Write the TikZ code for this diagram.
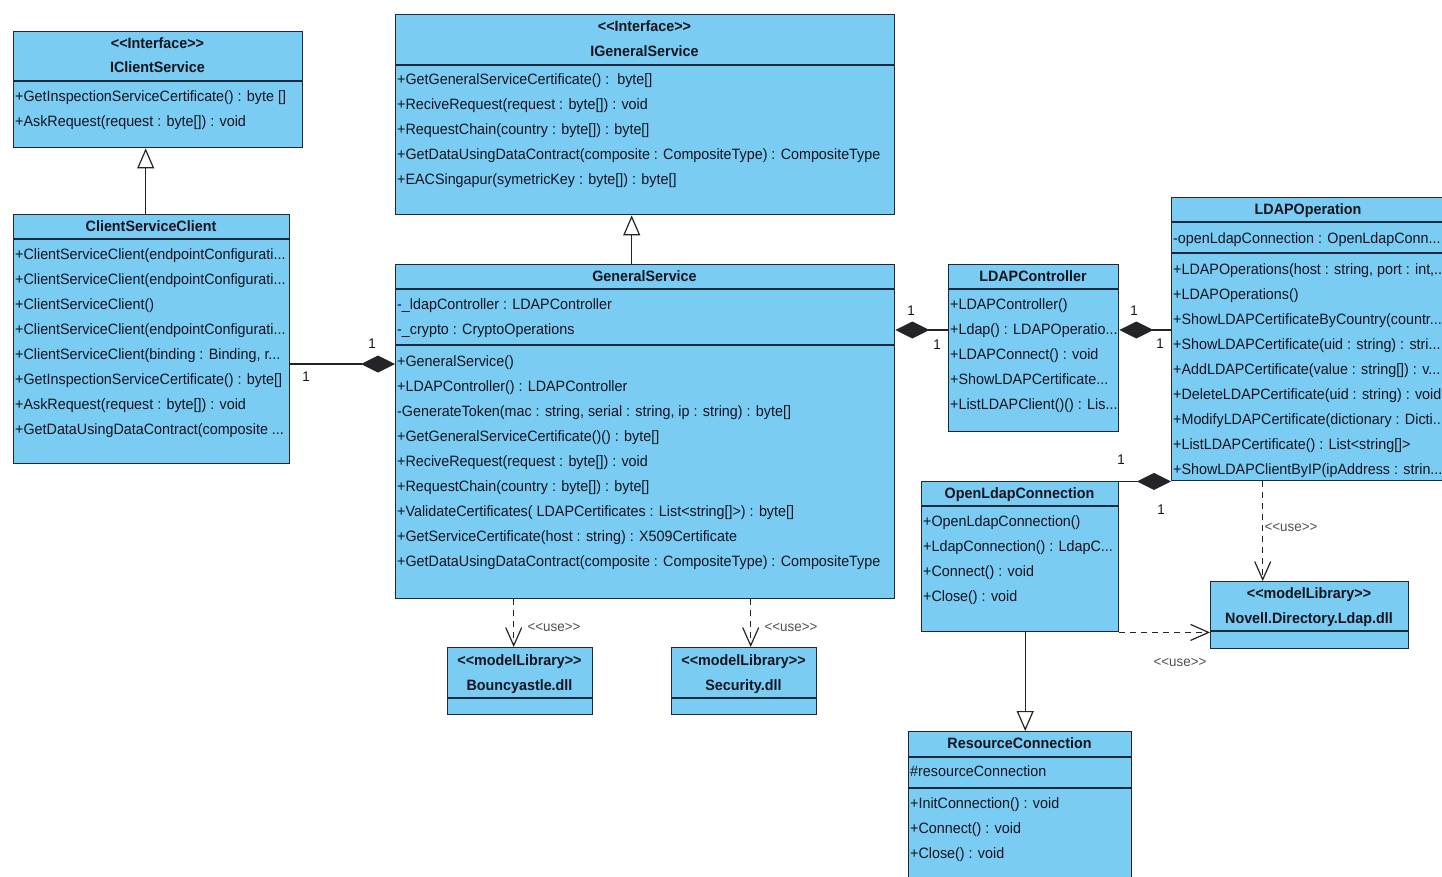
\documentclass[tikz,border=0pt]{standalone}
\usepackage{fontspec}
\setmainfont{Liberation Sans}[FakeStretch=0.955]
\usetikzlibrary{arrows.meta}

\definecolor{clsfill}{RGB}{122,204,242}
\definecolor{clsline}{RGB}{30,40,60}
\definecolor{txt}{RGB}{18,20,32}
\definecolor{connline}{RGB}{35,35,40}
\definecolor{usegray}{RGB}{80,80,85}

% stereotype brackets kept as two separate characters
\newcommand\stl[1]{<\kern0pt<#1>\kern0pt>}
% horizontal compartment separator, #2 points below the top edge
\newcommand\compsep[2]{\draw[sepl] ([yshift=-#2pt]#1.north west) -- ([yshift=-#2pt]#1.north east);}

\tikzset{
  cls/.style={draw=clsline, fill=clsfill, line width=1.4pt, inner sep=0pt, anchor=north west},
  sepl/.style={draw=clsline, line width=1.2pt},
  txtrow/.style={anchor=west, inner sep=0pt, text=txt, font=\fontsize{15}{18}\selectfont,
    text height=11pt, text depth=3pt},
  ttl/.style={anchor=center, inner sep=0pt, text=txt, font=\fontsize{15}{18}\selectfont\bfseries,
    text height=11pt, text depth=3pt},
  mult/.style={inner sep=0pt, text=txt, font=\fontsize{14}{16}\selectfont},
  uselbl/.style={inner sep=0pt, text=usegray, font=\fontsize{14}{16}\selectfont},
  conn/.style={draw=connline, line width=1.2pt},
  gen/.style={conn, -{Triangle[open, fill=white, length=20pt, width=17pt, line width=1.2pt]}},
  comp/.style={conn, {Diamond[length=34pt, width=17pt]}-},
  dep/.style={conn, dash pattern=on 6pt off 5pt, -{Straight Barb[length=18pt, width=16pt, line width=1.2pt]}},
}

\begin{document}
\begin{tikzpicture}[x=1pt,y=-1pt]
\clip (0,0) rectangle (1442,876);
\fill[white] (0,0) rectangle (1442,876);

% ---------- class boxes ----------
\node[cls, minimum width=289pt, minimum height=116pt] (ics) at (13,31) {};
\node[cls, minimum width=276pt, minimum height=249pt] (csc) at (13,214) {};
\node[cls, minimum width=499pt, minimum height=200pt] (igs) at (395,14) {};
\node[cls, minimum width=499pt, minimum height=334pt] (gs) at (395,264) {};
\node[cls, minimum width=170pt, minimum height=167pt] (lc) at (948,264) {};
\node[cls, minimum width=274pt, minimum height=283pt] (lo) at (1171,197) {};
\node[cls, minimum width=197pt, minimum height=150pt] (olc) at (921,481) {};
\node[cls, minimum width=223pt, minimum height=160pt] (rc) at (908,731) {};
\node[cls, minimum width=198pt, minimum height=67pt] (nov) at (1210,581) {};
\node[cls, minimum width=145pt, minimum height=67pt] (bc) at (447,647) {};
\node[cls, minimum width=145pt, minimum height=67pt] (sec) at (671,647) {};

\compsep{ics}{50}
\compsep{csc}{25}
\compsep{igs}{51}
\compsep{gs}{25}
\compsep{gs}{81}
\compsep{lc}{25}
\compsep{lo}{25}
\compsep{lo}{56}
\compsep{olc}{25}
\compsep{rc}{26}
\compsep{rc}{57}
\compsep{nov}{50}
\compsep{bc}{51}
\compsep{sec}{51}

% ---------- connectors ----------
\draw[gen] ([xshift=-6pt]csc.north) -- ([xshift=-6pt]csc.north |- ics.south);
\draw[gen] ([xshift=-13.5pt]gs.north) -- ([xshift=-13.5pt]gs.north |- igs.south);
\draw[gen] ([xshift=5pt]olc.south) -- ([xshift=5pt]olc.south |- rc.north);

\coordinate (gsL) at ([yshift=-100pt]gs.north west);
\draw[comp] (gsL) -- (gsL -| csc.east);
\coordinate (gsR) at ([yshift=-66pt]gs.north east);
\draw[comp] (gsR) -- (gsR -| lc.west);
\coordinate (lcR) at ([yshift=-66pt]lc.north east);
\draw[comp] (lcR) -- (lcR -| lo.west);
\draw[comp] (lo.south west) -- (lo.south west -| olc.east);

\draw[dep] ([xshift=-6.5pt]bc.north |- gs.south) -- ([xshift=-6.5pt]bc.north);
\draw[dep] ([xshift=6.5pt]sec.north |- gs.south) -- ([xshift=6.5pt]sec.north);
\draw[dep] ([xshift=-46pt]lo.south) -- ([xshift=-46pt]lo.south |- nov.north);
\draw[dep] (olc.south east) -- (olc.south east -| nov.west);

% ---------- multiplicities and stereotypes on connectors ----------
\node[mult] (m1) at (372,344) {1};
\node[mult] (m2) at (306,377) {1};
\node[mult] (m3) at (911,311) {1};
\node[mult] (m4) at (937,345) {1};
\node[mult] (m5) at (1134,311) {1};
\node[mult] (m6) at (1160,344) {1};
\node[mult] (m7) at (1121,460) {1};
\node[mult] (m8) at (1161,510) {1};
\node[uselbl] (u1) at (554,627) {\stl{use}};
\node[uselbl] (u2) at (791,627) {\stl{use}};
\node[uselbl] (u3) at (1291,527) {\stl{use}};
\node[uselbl] (u4) at (1180,662) {\stl{use}};

% ---------- IClientService ----------
\node[ttl] (ics-s) at (157.5,44) {\stl{Interface}};
\node[ttl] (ics-n) at (157.5,68) {IClientService};
\node[txtrow] (ics-1) at (15,97) {+GetInspectionServiceCertificate() : byte []};
\node[txtrow] (ics-2) at (15,122) {+AskRequest(request : byte[]) : void};

% ---------- ClientServiceClient ----------
\node[ttl] (csc-n) at (151,227) {ClientServiceClient};
\node[txtrow] (csc-1) at (15,255) {+ClientServiceClient(endpointConfigurati...};
\node[txtrow] (csc-2) at (15,280) {+ClientServiceClient(endpointConfigurati...};
\node[txtrow] (csc-3) at (15,305) {+ClientServiceClient()};
\node[txtrow] (csc-4) at (15,330) {+ClientServiceClient(endpointConfigurati...};
\node[txtrow] (csc-5) at (15,355) {+ClientServiceClient(binding : Binding, r...};
\node[txtrow] (csc-6) at (15,380) {+GetInspectionServiceCertificate() : byte[]};
\node[txtrow] (csc-7) at (15,405) {+AskRequest(request : byte[]) : void};
\node[txtrow] (csc-8) at (15,430) {+GetDataUsingDataContract(composite ...};

% ---------- IGeneralService ----------
\node[ttl] (igs-s) at (644.5,27) {\stl{Interface}};
\node[ttl] (igs-n) at (644.5,52) {IGeneralService};
\node[txtrow] (igs-1) at (397,80) {+GetGeneralServiceCertificate() :\ \ byte[]};
\node[txtrow] (igs-2) at (397,105) {+ReciveRequest(request : byte[]) : void};
\node[txtrow] (igs-3) at (397,130) {+RequestChain(country : byte[]) : byte[]};
\node[txtrow] (igs-4) at (397,155) {+GetDataUsingDataContract(composite : CompositeType) : CompositeType};
\node[txtrow] (igs-5) at (397,180) {+EACSingapur(symetricKey : byte[]) : byte[]};

% ---------- GeneralService ----------
\node[ttl] (gs-n) at (644.5,277) {GeneralService};
\node[txtrow] (gs-a1) at (397,305) {-\_ldapController : LDAPController};
\node[txtrow] (gs-a2) at (397,330) {-\_crypto : CryptoOperations};
\node[txtrow] (gs-1) at (397,362) {+GeneralService()};
\node[txtrow] (gs-2) at (397,387) {+LDAPController() : LDAPController};
\node[txtrow] (gs-3) at (397,412) {-GenerateToken(mac : string, serial : string, ip : string) : byte[]};
\node[txtrow] (gs-4) at (397,437) {+GetGeneralServiceCertificate()() : byte[]};
\node[txtrow] (gs-5) at (397,462) {+ReciveRequest(request : byte[]) : void};
\node[txtrow] (gs-6) at (397,487) {+RequestChain(country : byte[]) : byte[]};
\node[txtrow] (gs-7) at (397,512) {+ValidateCertificates( LDAPCertificates : List<string[]>) : byte[]};
\node[txtrow] (gs-8) at (397,537) {+GetServiceCertificate(host : string) : X509Certificate};
\node[txtrow] (gs-9) at (397,562) {+GetDataUsingDataContract(composite : CompositeType) : CompositeType};

% ---------- LDAPController ----------
\node[ttl] (lc-n) at (1033,277) {LDAPController};
\node[txtrow] (lc-1) at (950,305) {+LDAPController()};
\node[txtrow] (lc-2) at (950,330) {+Ldap() : LDAPOperatio...};
\node[txtrow] (lc-3) at (950,355) {+LDAPConnect() : void};
\node[txtrow] (lc-4) at (950,380) {+ShowLDAPCertificate...};
\node[txtrow] (lc-5) at (950,405) {+ListLDAPClient()() : Lis...};

% ---------- LDAPOperation ----------
\node[ttl] (lo-n) at (1308,210) {LDAPOperation};
\node[txtrow] (lo-a1) at (1173,239) {-openLdapConnection : OpenLdapConn...};
\node[txtrow] (lo-1) at (1173,270) {+LDAPOperations(host : string, port : int,...};
\node[txtrow] (lo-2) at (1173,295) {+LDAPOperations()};
\node[txtrow] (lo-3) at (1173,320) {+ShowLDAPCertificateByCountry(countr...};
\node[txtrow] (lo-4) at (1173,345) {+ShowLDAPCertificate(uid : string) : stri...};
\node[txtrow] (lo-5) at (1173,370) {+AddLDAPCertificate(value : string[]) : v...};
\node[txtrow] (lo-6) at (1173,395) {+DeleteLDAPCertificate(uid : string) : void};
\node[txtrow] (lo-7) at (1173,420) {+ModifyLDAPCertificate(dictionary : Dicti...};
\node[txtrow] (lo-8) at (1173,445) {+ListLDAPCertificate() : List<string[]>};
\node[txtrow] (lo-9) at (1173,470) {+ShowLDAPClientByIP(ipAddress : strin...};

% ---------- OpenLdapConnection ----------
\node[ttl] (olc-n) at (1019.5,494) {OpenLdapConnection};
\node[txtrow] (olc-1) at (923,522) {+OpenLdapConnection()};
\node[txtrow] (olc-2) at (923,547) {+LdapConnection() : LdapC...};
\node[txtrow] (olc-3) at (923,572) {+Connect() : void};
\node[txtrow] (olc-4) at (923,597) {+Close() : void};

% ---------- ResourceConnection ----------
\node[ttl] (rc-n) at (1019.5,744) {ResourceConnection};
\node[txtrow] (rc-a1) at (910,772) {\#resourceConnection};
\node[txtrow] (rc-1) at (910,804) {+InitConnection() : void};
\node[txtrow] (rc-2) at (910,829) {+Connect() : void};
\node[txtrow] (rc-3) at (910,854) {+Close() : void};

% ---------- model libraries ----------
\node[ttl] (nov-s) at (1309,594) {\stl{modelLibrary}};
\node[ttl] (nov-n) at (1309,619) {Novell.Directory.Ldap.dll};
\node[ttl] (bc-s) at (519.5,661) {\stl{modelLibrary}};
\node[ttl] (bc-n) at (519.5,686) {Bouncyastle.dll};
\node[ttl] (sec-s) at (743.5,661) {\stl{modelLibrary}};
\node[ttl] (sec-n) at (743.5,686) {Security.dll};
\end{tikzpicture}
\end{document}
